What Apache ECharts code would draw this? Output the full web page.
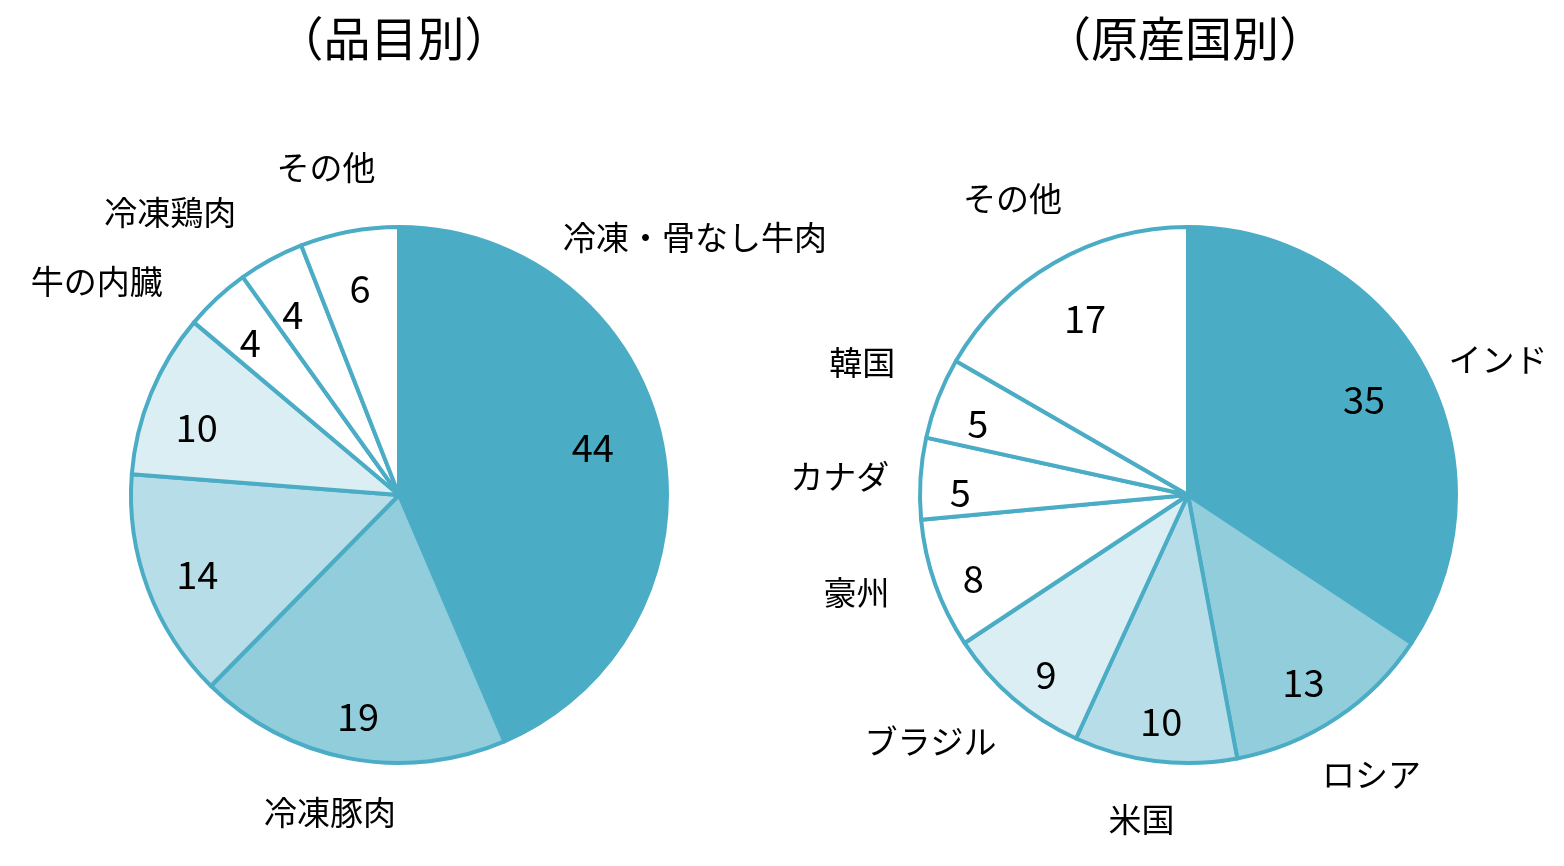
<!DOCTYPE html>
<html>
<head>
<meta charset="utf-8">
<script src="https://cdn.jsdelivr.net/npm/echarts@6/dist/echarts.min.js"></script>
<style>
html,body{margin:0;padding:0;background:#fff;}
#chart{width:1564px;height:866px;}
</style>
</head>
<body>
<div id="chart"></div>
<script>
// ---- data ----
const itemTitle = '（品目別）';
const itemNames = ['冷凍・骨なし牛肉', '冷凍豚肉', '', '', '牛の内臓', '冷凍鶏肉', 'その他'];
const itemValues = [44, 19, 14, 10, 4, 4, 6];

const originTitle = '（原産国別）';
const originNames = ['インド', 'ロシア', '米国', 'ブラジル', '豪州', 'カナダ', '韓国', 'その他'];
const originValues = [35, 13, 10, 9, 8, 5, 5, 17];

// ---- style ----
const FONT = '"Noto Sans CJK JP", "Noto Sans", sans-serif';
const EDGE = '#4BACC6';
const itemColors = ['#4BACC6', '#92CDDC', '#B7DEE8', '#DAEEF3', '#FFFFFF', '#FFFFFF', '#FFFFFF'];
const originColors = ['#4BACC6', '#92CDDC', '#B7DEE8', '#DAEEF3', '#FFFFFF', '#FFFFFF', '#FFFFFF', '#FFFFFF'];

const pies = [
  { center: [399, 495], radius: 268, valueR: 210, nameR: 345, values: itemValues, names: itemNames, colors: itemColors,
    nameNudge: { '冷凍・骨なし牛肉': [-42, -188], '冷凍豚肉': [-5, -22], '牛の内臓': [-68, 40], '冷凍鶏肉': [-64, 21], 'その他': [-9, 11] },
    valueNudge: { 0: [-12, -5], 1: [-2, 15], 2: [-5, 6], 4: [-6, 2], 5: [-6, 4], 3: [-8, 12] } },
  { center: [1188, 495], radius: 268, valueR: 218, nameR: 345, values: originValues, names: originNames, colors: originColors,
    nameNudge: { 'インド': [6, 28], 'ロシア': [-7, -8], '米国': [-4, -18], 'ブラジル': [-33, -16], '豪州': [-6, -17], 'カナダ': [-4, 3], '韓国': [-4, -8], 'その他': [-3, 2] },
    valueNudge: { 0: [-16, 8], 1: [-5, 6], 2: [0, 10], 3: [0, 14], 4: [-9, 11], 5: [-10, 11], 6: [-7, 7], 7: [6, 12] } }
];

function midAngle(values, i) {
  const sum = values.reduce((a, b) => a + b, 0);
  let cum = 0;
  for (let k = 0; k < i; k++) cum += values[k];
  return (cum + values[i] / 2) / sum * Math.PI * 2; // from top, clockwise
}

function makeLayout(p, isName) {
  return function (params) {
    const i = params.dataIndex;
    const a = midAngle(p.values, i);
    const r = isName ? p.nameR : p.valueR;
    let x = p.center[0] + r * Math.sin(a);
    let y = p.center[1] - r * Math.cos(a);
    const nudge = isName ? p.nameNudge[p.names[i]] : p.valueNudge[i];
    if (nudge) { x += nudge[0]; y += nudge[1]; }
    return { x: x, y: y, align: 'center', verticalAlign: 'middle' };
  };
}

const series = [];
pies.forEach(function (p) {
  series.push({
    type: 'pie',
    center: p.center,
    radius: p.radius,
    startAngle: 90,
    clockwise: true,
    avoidLabelOverlap: false,
    silent: true,
    animation: false,
    data: p.values.map(function (v, i) {
      return { value: v, name: p.names[i] || ('_' + i), itemStyle: { color: p.colors[i] } };
    }),
    itemStyle: { borderColor: EDGE, borderWidth: 4 },
    label: { show: true, position: 'inside', formatter: '{c}', color: '#000', fontSize: 38, fontFamily: FONT },
    labelLine: { show: false },
    labelLayout: makeLayout(p, false),
    z: 2
  });
  series.push({
    type: 'pie',
    center: p.center,
    radius: p.radius,
    startAngle: 90,
    clockwise: true,
    avoidLabelOverlap: false,
    silent: true,
    animation: false,
    data: p.values.map(function (v, i) {
      return { value: v, name: p.names[i] || ('_' + i) };
    }),
    itemStyle: { color: 'rgba(0,0,0,0)', borderWidth: 0 },
    label: {
      show: true, position: 'outside', color: '#000', fontSize: 33, fontFamily: FONT,
      formatter: function (prm) { return p.names[prm.dataIndex]; }
    },
    labelLine: { show: false },
    labelLayout: makeLayout(p, true),
    z: 1
  });
});

const chart = echarts.init(document.getElementById('chart'), null, { renderer: 'canvas' });
chart.setOption({
  backgroundColor: '#fff',
  animation: false,
  title: [
    { text: itemTitle, left: 389, top: 10, textAlign: 'center', textStyle: { fontSize: 47, fontWeight: 'normal', color: '#000', fontFamily: FONT } },
    { text: originTitle, left: 1180, top: 10, textAlign: 'center', textStyle: { fontSize: 47, fontWeight: 'normal', color: '#000', fontFamily: FONT } }
  ],
  legend: { show: false },
  tooltip: { show: false },
  series: series
});
</script>
</body>
</html>
